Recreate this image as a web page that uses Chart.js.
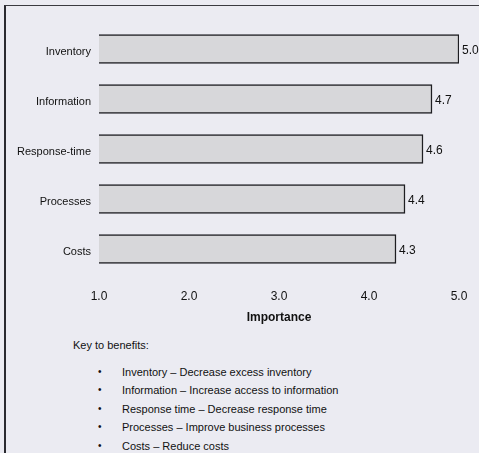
<!DOCTYPE html>
<html>
<head>
<meta charset="utf-8">
<script src="https://cdn.jsdelivr.net/npm/chart.js@4.4.1/dist/chart.umd.min.js"></script>
<style>
  html, body { margin: 0; padding: 0; }
  body { width: 479px; height: 453px; background: #ebebf2; position: relative; overflow: hidden;
         font-family: "Liberation Sans", Arial, sans-serif; color: #111; }
  #frame { position: absolute; left: 4px; top: 5px; width: 480px; height: 460px;
           border-left: 2px solid #2a2a30; border-top: 1.5px solid #3a3a40; }
  #wrap { position: absolute; left: 0; top: 0; width: 479px; height: 335px; }
  #key { position: absolute; left: 73px; top: 336px; font-size: 11px; line-height: 18.5px; }
  #key ul { list-style: none; margin: 0; padding: 0; }
  #key li { position: relative; padding-left: 49px; }
  #key li::before { content: "\2022"; position: absolute; left: 25px; font-size: 10px; }
  #key .head { margin-bottom: 8px; }
</style>
</head>
<body>
<div id="frame"></div>
<div id="wrap"><canvas id="c" width="479" height="335"></canvas></div>
<div id="key">
  <div class="head">Key to benefits:</div>
  <ul id="keyList"></ul>
</div>
<script>
// Benefit categories and their mean importance scores
const categories = ["Inventory", "Information", "Response-time", "Processes", "Costs"];
const importance = [5.0, 4.7, 4.6, 4.4, 4.3];
const axisTicks = [1.0, 2.0, 3.0, 4.0, 5.0];
const keyItems = [
  "Inventory \u2013 Decrease excess inventory",
  "Information \u2013 Increase access to information",
  "Response time \u2013 Decrease response time",
  "Processes \u2013 Improve business processes",
  "Costs \u2013 Reduce costs"
];

const list = document.getElementById("keyList");
keyItems.forEach(t => {
  const li = document.createElement("li");
  li.textContent = t;
  list.appendChild(li);
});

const FONT = "'Liberation Sans', Arial, sans-serif";

// Writes each bar's value just past its end
const valueLabels = {
  id: "valueLabels",
  afterDatasetsDraw(chart) {
    const ctx = chart.ctx;
    const meta = chart.getDatasetMeta(0);
    ctx.save();
    ctx.font = "12px " + FONT;
    ctx.fillStyle = "#111";
    ctx.textAlign = "left";
    ctx.textBaseline = "middle";
    meta.data.forEach((bar, i) => {
      ctx.fillText(importance[i].toFixed(1), bar.x + 3, bar.y + 2);
    });
    ctx.restore();
  }
};

new Chart(document.getElementById("c"), {
  type: "bar",
  data: {
    labels: categories,
    datasets: [{
      data: importance,
      backgroundColor: "#d7d7da",
      borderColor: "#1e1e22",
      borderWidth: 1.5,
      borderSkipped: false,
      barThickness: 29
    }]
  },
  options: {
    indexAxis: "y",
    responsive: false,
    animation: false,
    layout: { padding: { top: 24, right: 20, left: 0, bottom: 10 } },
    plugins: { legend: { display: false }, tooltip: { enabled: false } },
    scales: {
      x: {
        min: 1, max: 5,
        afterBuildTicks(scale) { scale.ticks = axisTicks.map(v => ({ value: v })); },
        afterFit(scale) { scale.height = 51; scale.paddingLeft = 0; scale.paddingRight = 0; },
        grid: { display: false, drawTicks: false },
        border: { display: false },
        ticks: {
          padding: 15,
          color: "#111",
          font: { family: FONT, size: 12 },
          callback: v => Number(v).toFixed(1)
        },
        title: {
          display: true,
          text: "Importance",
          color: "#111",
          padding: 0,
          font: { family: FONT, size: 12, weight: "bold" }
        }
      },
      y: {
        afterFit(scale) { scale.width = 99; },
        grid: { display: false, drawTicks: false },
        border: { display: false },
        ticks: {
          padding: 8,
          labelOffset: 2.5,
          color: "#111",
          font: { family: FONT, size: 11 }
        }
      }
    }
  },
  plugins: [valueLabels]
});
</script>
</body>
</html>
